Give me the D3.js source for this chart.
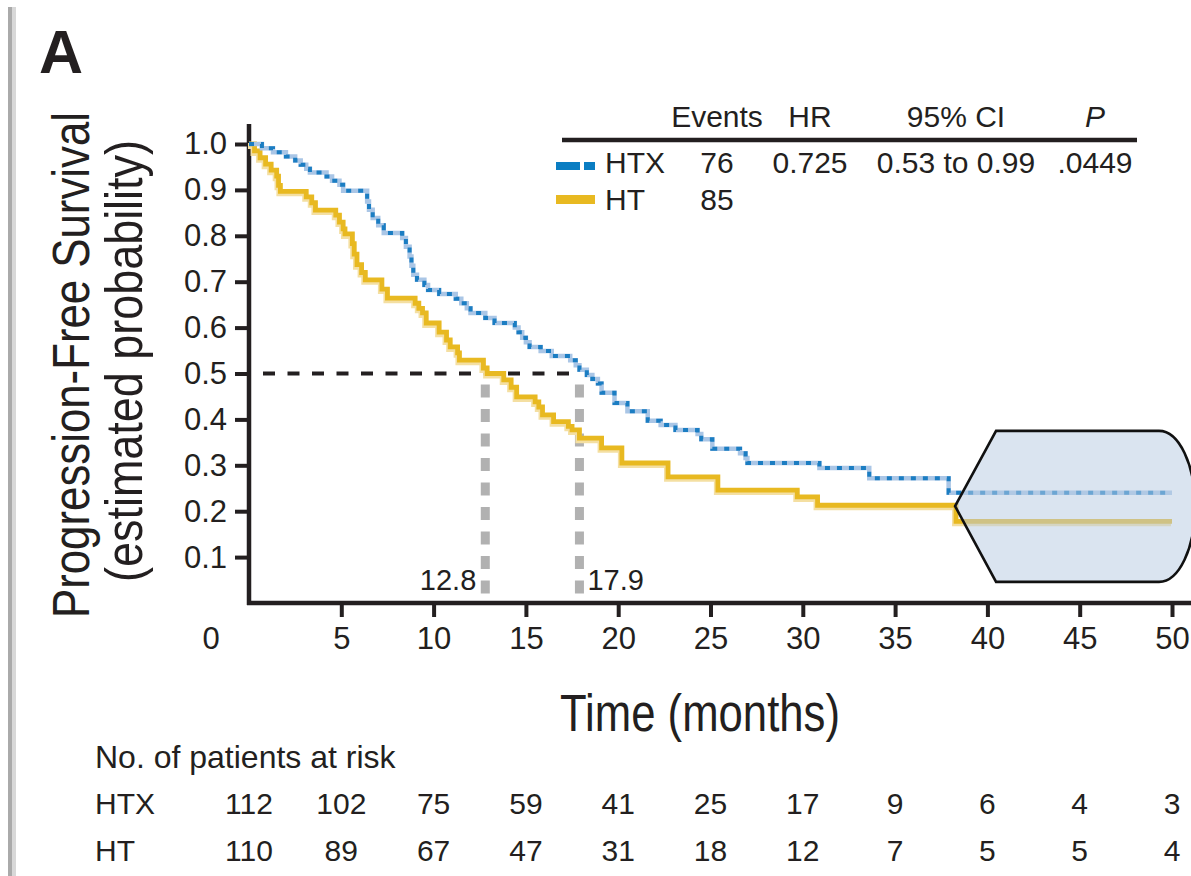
<!DOCTYPE html>
<html><head><meta charset="utf-8">
<script src="https://cdn.jsdelivr.net/npm/d3@7"></script>
<style>
html,body{margin:0;padding:0;background:#fff;}
svg{display:block;background:#fff;}
text{fill:#231f20;font-family:"Liberation Sans",Arial,Helvetica,sans-serif;}
</style></head><body>
<svg id="chart" width="1191" height="876"></svg>
<script>
// ---------------- data ----------------
const timeTicks = [0,5,10,15,20,25,30,35,40,45,50];
const survTicks = [0.1,0.2,0.3,0.4,0.5,0.6,0.7,0.8,0.9,1.0];

// Kaplan-Meier steps [time (months), survival after step]
const htxSteps = [[0,1],[0.7,0.991],[1.3,0.982],[2.0,0.973],[2.5,0.964],[2.8,0.955],[3.1,0.946],[3.3,0.938],
  [4.2,0.929],[4.5,0.92],[4.9,0.911],[5.1,0.898],[6.4,0.875],[6.5,0.857],[6.7,0.839],[7.0,0.823],[7.3,0.806],
  [8.3,0.795],[8.5,0.776],[8.7,0.755],[8.8,0.735],[8.9,0.715],[9.1,0.704],[9.5,0.693],[9.7,0.682],[10.3,0.673],
  [11.2,0.663],[11.5,0.653],[11.8,0.642],[12.0,0.632],[12.8,0.621],[13.3,0.61],[14.4,0.60],[14.6,0.59],[14.8,0.578],
  [15.0,0.568],[15.2,0.558],[15.8,0.549],[16.4,0.538],[17.4,0.529],[17.7,0.518],[17.9,0.508],[18.3,0.497],
  [18.6,0.488],[18.9,0.478],[19.1,0.458],[19.8,0.436],[20.5,0.418],[21.6,0.397],[22.3,0.388],[23.1,0.377],
  [24.3,0.368],[24.5,0.357],[25.1,0.336],[26.6,0.326],[26.9,0.316],[27.0,0.305],[30.9,0.294],[33.6,0.272],[37.9,0.24]];
const htSteps = [[0,1],[0.3,0.985],[0.6,0.97],[0.9,0.956],[1.2,0.943],[1.5,0.93],[1.6,0.91],[1.7,0.897],
  [3.1,0.885],[3.4,0.872],[3.6,0.856],[4.7,0.845],[4.9,0.83],[5.1,0.815],[5.2,0.804],[5.6,0.783],[5.7,0.76],
  [5.85,0.737],[6.1,0.72],[6.3,0.704],[7.2,0.684],[7.5,0.664],[9.0,0.653],[9.2,0.642],[9.4,0.632],[9.6,0.61],
  [10.3,0.59],[10.7,0.573],[10.9,0.558],[11.3,0.545],[11.4,0.529],[12.7,0.512],[12.9,0.5],[13.8,0.486],[14.2,0.47],
  [14.5,0.449],[15.5,0.438],[15.7,0.427],[15.9,0.41],[16.5,0.395],[17.3,0.385],[17.5,0.377],[17.9,0.359],
  [19.1,0.338],[20.2,0.305],[22.7,0.275],[25.4,0.246],[29.7,0.231],[30.8,0.213],[38.3,0.178]];
const followUpEnd = 50;

const medianTimes = [12.8, 17.9];
const medianLabels = ["12.8", "17.9"];

const legendHeader = ["Events", "HR", "95% CI", "P"];
const legendHTX = ["HTX", "76", "0.725", "0.53 to 0.99", ".0449"];
const legendHT = ["HT", "85"];

const riskTitle = "No. of patients at risk";
const riskGroups = ["HTX", "HT"];
const riskHTX = [112,102,75,59,41,25,17,9,6,4,3];
const riskHT = [110,89,67,47,31,18,12,7,5,5,4];

// zoomed tail marker (data units)
const tailBox = {tipT:38.25, tipS:0.211, shoulderT:40.47, endT:49.3, topS:0.375, botS:0.046};

// ---------------- drawing ----------------
const svg = d3.select("#chart");
const ink = "#231f20";
const x = d3.scaleLinear().domain([0,50]).range([249,1172]);
const y = d3.scaleLinear().domain([0,1]).range([603,144]);

// left page bar
svg.append("rect").attr("x",8).attr("y",7).attr("width",4).attr("height",869).attr("fill","#aaaaaa");
svg.append("rect").attr("x",12).attr("y",7).attr("width",4).attr("height",869).attr("fill","#d8d8d8");

// panel letter
svg.append("text").attr("x",39).attr("y",73).attr("font-size",61).attr("font-weight","bold").text("A");

// axes
const xAxis = d3.axisBottom(x).tickValues(timeTicks.slice(1)).tickSize(14).tickSizeOuter(0).tickPadding(10);
const gx = svg.append("g").attr("transform",`translate(0,${y(0)})`).call(xAxis);
gx.select(".domain").attr("d",`M${x(0)-2},0H1191`).attr("stroke",ink).attr("stroke-width",4.5);
gx.selectAll(".tick line").attr("stroke",ink).attr("stroke-width",4);
gx.selectAll(".tick text").attr("font-size",31).attr("font-family",null).style("fill",ink);
gx.append("text").attr("x",x(0)-38).attr("y",24).attr("dy","0.71em").attr("text-anchor","middle")
  .attr("font-size",31).style("fill",ink).text(d3.format("d")(timeTicks[0]));

const yAxis = d3.axisLeft(y).tickValues(survTicks).tickSize(14).tickSizeOuter(0).tickPadding(8).tickFormat(d3.format(".1f"));
const gy = svg.append("g").attr("transform",`translate(${x(0)},0)`).call(yAxis);
gy.select(".domain").attr("d",`M0,${y(0)+2}V124`).attr("stroke",ink).attr("stroke-width",4.5);
gy.selectAll(".tick line").attr("stroke",ink).attr("stroke-width",4);
gy.selectAll(".tick text").attr("font-size",31).attr("font-family",null).style("fill",ink);

// axis titles
svg.append("text").attr("transform",`translate(89,365) rotate(-90)`).attr("text-anchor","middle")
  .attr("font-size",52).style("font-family","'Liberation Sans Narrow','Liberation Sans',Arial,sans-serif")
  .attr("textLength",506).attr("lengthAdjust","spacingAndGlyphs").text("Progression-Free Survival");
svg.append("text").attr("transform",`translate(142,361) rotate(-90)`).attr("text-anchor","middle")
  .attr("font-size",52).style("font-family","'Liberation Sans Narrow','Liberation Sans',Arial,sans-serif")
  .attr("textLength",442).attr("lengthAdjust","spacingAndGlyphs").text("(estimated probability)");
svg.append("text").attr("x",700).attr("y",731).attr("text-anchor","middle")
  .attr("font-size",51).style("font-family","'Liberation Sans Narrow','Liberation Sans',Arial,sans-serif")
  .attr("textLength",280).attr("lengthAdjust","spacingAndGlyphs").text("Time (months)");

// median reference lines
svg.append("line").attr("x1",x(0)).attr("x2",x(medianTimes[1])).attr("y1",y(0.5)).attr("y2",y(0.5))
  .attr("stroke",ink).attr("stroke-width",4).attr("stroke-dasharray","12,12.5").attr("stroke-dashoffset",-14);
medianTimes.forEach((m,i)=>{
  svg.append("line").attr("x1",x(m)).attr("x2",x(m)).attr("y1",y(0.5)+11).attr("y2",y(0)-2)
    .attr("stroke","#b1b1b1").attr("stroke-width",9).attr("stroke-dasharray","13,11.5");
  svg.append("text").attr("x", i===0 ? x(m)-9 : x(m)+8).attr("y",590)
    .attr("text-anchor", i===0 ? "end" : "start").attr("font-size",29).text(medianLabels[i]);
});

// curves
const line = d3.line().x(d=>x(d[0])).y(d=>y(d[1])).curve(d3.curveStepAfter);
const htLine = htSteps.concat([[followUpEnd, htSteps[htSteps.length-1][1]]]);
const htxLine = htxSteps.concat([[followUpEnd, htxSteps[htxSteps.length-1][1]]]);

svg.append("path").attr("d",line(htLine)).attr("fill","none").attr("stroke","#f4dfa2")
  .attr("stroke-width",6).attr("transform","translate(-1,2)");
svg.append("path").attr("d",line(htLine)).attr("fill","none").attr("stroke","#e8b921").attr("stroke-width",4.8);

svg.append("path").attr("d",line(htxLine)).attr("fill","none").attr("stroke","#aac6e6").attr("stroke-width",4.5);
svg.append("path").attr("d",line(htxLine)).attr("fill","none").attr("stroke","#1b7dc2").attr("stroke-width",4)
  .attr("stroke-dasharray","5,7");

// tail marker
const r = (y(tailBox.botS)-y(tailBox.topS))/2;
const boxPath = `M${x(tailBox.tipT)},${y(tailBox.tipS)} L${x(tailBox.shoulderT)},${y(tailBox.topS)} `+
  `L${x(tailBox.endT)},${y(tailBox.topS)} A36,${r} 0 0 1 ${x(tailBox.endT)},${y(tailBox.botS)} `+
  `L${x(tailBox.shoulderT)},${y(tailBox.botS)} Z`;
svg.append("path").attr("d",boxPath).attr("fill","rgb(184,203,226)").attr("fill-opacity",0.52)
  .attr("stroke","#111").attr("stroke-width",2.6).attr("stroke-linejoin","miter");

// legend
const colCenters = [717, 810, 956, 1095];
svg.append("line").attr("x1",562).attr("x2",1137).attr("y1",140).attr("y2",140).attr("stroke",ink).attr("stroke-width",4.5);
legendHeader.forEach((h,i)=>{
  svg.append("text").attr("x",colCenters[i]).attr("y",127).attr("text-anchor","middle").attr("font-size",30)
    .attr("font-style", h==="P" ? "italic" : null).text(h);
});
[legendHTX, legendHT].forEach((row,ri)=>{
  const by = ri===0 ? 173 : 210;
  svg.append("text").attr("x",605).attr("y",by).attr("font-size",30).text(row[0]);
  row.slice(1).forEach((v,i)=>{
    svg.append("text").attr("x",colCenters[i]).attr("y",by).attr("text-anchor","middle").attr("font-size",30).text(v);
  });
});
svg.append("rect").attr("x",556).attr("y",162).attr("width",24).attr("height",8).attr("fill","#0a7dc2");
svg.append("rect").attr("x",584).attr("y",162).attr("width",11).attr("height",8).attr("fill","#0a7dc2");
svg.append("rect").attr("x",556).attr("y",195).attr("width",39).attr("height",9).attr("fill","#e8b921");

// number at risk
svg.append("text").attr("x",95).attr("y",768).attr("font-size",32).text(riskTitle);
[riskHTX, riskHT].forEach((vals,ri)=>{
  const by = ri===0 ? 814 : 861;
  svg.append("text").attr("x",95).attr("y",by).attr("font-size",30).text(riskGroups[ri]);
  svg.append("g").selectAll("text").data(vals).join("text")
    .attr("x",(d,i)=>x(timeTicks[i])).attr("y",by).attr("text-anchor","middle").attr("font-size",30).text(d=>d);
});
</script>
</body></html>
